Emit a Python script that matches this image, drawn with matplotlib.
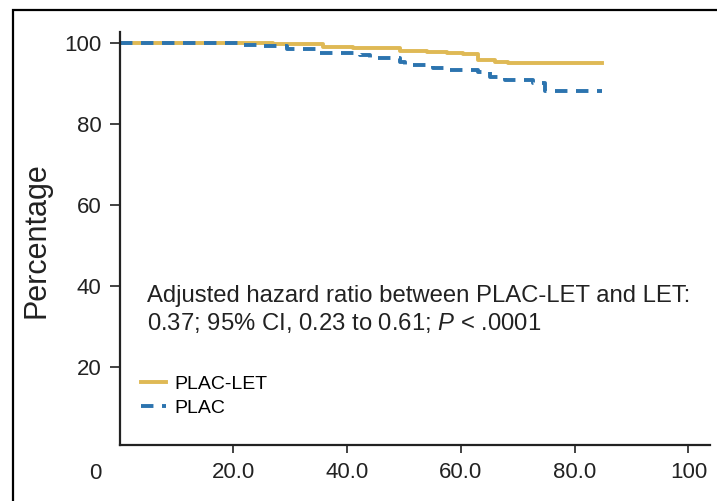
import matplotlib
matplotlib.use("Agg")
import matplotlib.pyplot as plt
from matplotlib.patches import Rectangle
import matplotlib.transforms as mtransforms

plt.rcParams['font.family'] = ['Liberation Sans', 'DejaVu Sans']
plt.rcParams['mathtext.fontset'] = 'custom'
plt.rcParams['mathtext.rm'] = 'Liberation Sans'
plt.rcParams['mathtext.it'] = 'Liberation Sans:italic'

# Kaplan-Meier style step data
let_time = [0, 27.0, 35.8, 41.0, 49.3, 54.0, 57.6, 60.4, 63.0, 66.0, 68.3, 84.8]
let_pct = [100, 99.8, 99.1, 98.7, 98.1, 97.7, 97.5, 97.3, 95.8, 95.4, 95.0, 95.0]

plac_time = [0, 21.2, 24.7, 29.4, 34.7, 42.3, 44.0, 49.3, 50.2, 55.1, 57.2, 63.0, 65.1,
             67.8, 72.7, 74.8, 84.8]
plac_pct = [100, 99.6, 99.3, 98.4, 97.5, 97.0, 96.2, 95.4, 94.6, 93.8, 93.2, 92.8, 91.5,
            90.9, 90.0, 88.1, 88.1]

xticks = [20, 40, 60, 80, 100]
xticklabels = ['20.0', '40.0', '60.0', '80.0', '100']
yticks = [20, 40, 60, 80, 100]

gold = '#DFB955'
blue = '#2C74AF'
dark = '#222222'

W, H = 717, 501
fig = plt.figure(figsize=(W / 100, H / 100), dpi=100)
ax = fig.add_axes([119.5 / W, 1 - 445 / H, (710 - 119.5) / W, (445 - 32) / H])

ax.plot(let_time, let_pct, drawstyle='steps-post', color=gold, lw=2.8, label='PLAC-LET')
ax.plot(plac_time, plac_pct, drawstyle='steps-post', color=blue, lw=2.8,
        linestyle=(0, (3.2, 2.2)), label='PLAC')

ax.set_xlim(0, 103.8)
ax.set_ylim(0.7, 102.7)
ax.set_xticks(xticks)
ax.set_xticklabels(xticklabels)
ax.set_yticks(yticks)
for s in ['top', 'right']:
    ax.spines[s].set_visible(False)
for s in ['left', 'bottom']:
    ax.spines[s].set_linewidth(1.6)
    ax.spines[s].set_color(dark)
ax.tick_params(axis='both', direction='out', length=7, width=1.2, colors=dark,
               labelsize=16, labelcolor=dark)
ax.tick_params(axis='x', length=6, pad=6)
ax.tick_params(axis='y', pad=6)

# lone "0" label left of the y spine
trans = mtransforms.blended_transform_factory(ax.transData, ax.transAxes)
ax.text(-4.2, 0, '0', fontsize=16, color=dark, ha='center', va='top',
        transform=trans + mtransforms.ScaledTranslation(0, -13 / 72, fig.dpi_scale_trans))

fig.text(37 / W, 1 - 240 / H, 'Percentage', rotation=90, ha='center', va='center',
         fontsize=22, color=dark)

ax.text(4.8, 37.5, 'Adjusted hazard ratio between PLAC-LET and LET:', fontsize=17.2,
        color=dark, va='center', ha='left')
ax.text(4.8, 30.8, '0.37; 95% CI, 0.23 to 0.61; $\\mathit{P}$ < .0001', fontsize=17.2,
        color=dark, va='center', ha='left')

ax.legend(loc='upper left', bbox_to_anchor=(0.036, 0.168), frameon=False, fontsize=14,
          handlelength=1.3, handletextpad=0.45, labelspacing=0.3, borderpad=0,
          borderaxespad=0)

# outer frame running off the right and bottom edges
fig.add_artist(Rectangle((13 / W, -0.1), 1.2, 1.1 - 10 / H, transform=fig.transFigure,
                         fill=False, edgecolor='black', lw=1.6))

fig.savefig('out.png', dpi=100)
